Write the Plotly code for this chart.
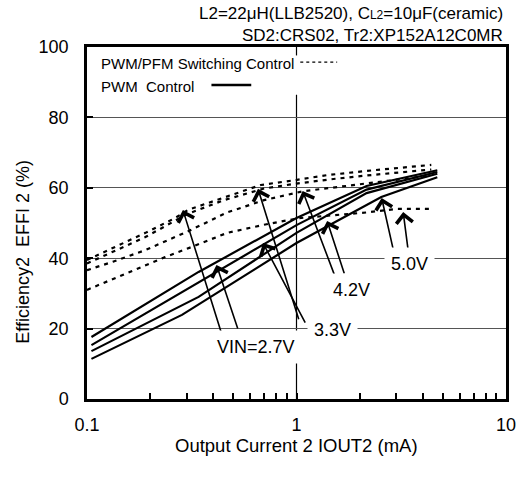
import math
import plotly.graph_objects as go

# ---------------- data ----------------
# PWM control (solid) : output current (mA) / efficiency (%)
pwm_27_i = [0.105, 0.341, 1.0, 2.16, 4.7]
pwm_27_e = [17.6, 36.1, 51.4, 60.5, 65.0]
pwm_33_i = [0.105, 0.341, 1.0, 2.16, 4.7]
pwm_33_e = [15.3, 33.2, 49.4, 59.5, 64.5]
pwm_42_i = [0.105, 0.341, 1.0, 2.16, 4.7]
pwm_42_e = [13.6, 29.0, 47.2, 58.5, 64.0]
pwm_50_i = [0.105, 0.284, 1.0, 2.54, 4.7]
pwm_50_e = [11.4, 23.9, 44.3, 57.4, 63.0]

# PWM/PFM switching control (dashed)
pfm_27_i = [0.1, 0.137, 0.19, 0.263, 0.303, 0.415, 0.676, 0.99, 1.4, 2.16, 4.4]
pfm_27_e = [39.5, 43.2, 47.2, 51.4, 53.7, 56.5, 60.8, 62.2, 63.6, 64.8, 66.5]
pfm_33_i = [0.1, 0.19, 0.3, 0.45, 0.7, 1.0, 1.5, 2.16, 4.4]
pfm_33_e = [38.5, 46.0, 52.5, 56.5, 59.8, 61.2, 62.5, 63.5, 65.2]
pfm_42_i = [0.1, 0.133, 0.19, 0.3, 0.467, 0.7, 1.07, 2.2, 4.4]
pfm_42_e = [36.6, 39.0, 42.3, 47.5, 53.0, 56.5, 59.0, 61.4, 63.5]
pfm_50_i = [0.1, 0.176, 0.236, 0.316, 0.467, 0.7, 1.03, 2.16, 3.0, 4.4]
pfm_50_e = [31.0, 37.2, 40.3, 43.2, 47.2, 49.5, 51.4, 53.0, 54.0, 54.0]

x_tick_vals = [0.1, 1, 10]
x_tick_text = ["0.1", "1", "10"]
y_tick_vals = [0, 20, 40, 60, 80, 100]
minor_vals = [0.2, 0.3, 0.4, 0.5, 0.6, 0.7, 0.8, 0.9, 2, 3, 4, 5, 6, 7, 8, 9]

# labels: text, current (mA), efficiency (%)
labels = [("VIN=2.7V", 0.641, 14.8), ("3.3V", 1.48, 19.6),
          ("4.2V", 1.84, 31.0), ("5.0V", 3.48, 38.4)]
# arrows: tail (I, eff) -> tip (I, eff)
arrows = [((0.438, 18.75), (0.287, 53.7)), ((0.527, 19.6), (0.415, 38.1)),
          ((1.03, 22.2), (0.655, 59.7)), ((1.11, 21.3), (0.692, 44.3)),
          ((1.53, 34.7), (1.07, 59.1)), ((1.70, 35.2), (1.40, 50.6)),
          ((2.90, 42.3), (2.55, 57.1)), ((3.41, 42.3), (3.23, 53.1))]

FONT = "Liberation Sans, Arial, sans-serif"

fig = go.Figure()
for xs, ys in [(pfm_27_i, pfm_27_e), (pfm_33_i, pfm_33_e),
               (pfm_42_i, pfm_42_e), (pfm_50_i, pfm_50_e)]:
    fig.add_trace(go.Scatter(x=xs, y=ys, mode="lines",
                             line=dict(color="black", width=2.2, dash="4px,5px"),
                             showlegend=False, hoverinfo="skip"))
for xs, ys in [(pwm_27_i, pwm_27_e), (pwm_33_i, pwm_33_e),
               (pwm_42_i, pwm_42_e), (pwm_50_i, pwm_50_e)]:
    fig.add_trace(go.Scatter(x=xs, y=ys, mode="lines",
                             line=dict(color="black", width=2.2),
                             showlegend=False, hoverinfo="skip"))

shapes = []
# vertical reference line at 1 mA
shapes.append(dict(type="line", xref="x", yref="y", x0=1, x1=1, y0=0, y1=86.4,
                   line=dict(color="black", width=1.2), layer="below"))
shapes.append(dict(type="line", xref="x", yref="y", x0=1, x1=1, y0=97.6, y1=100,
                   line=dict(color="black", width=1.2)))
# legend samples
shapes.append(dict(type="line", xref="paper", yref="paper", x0=0.509, x1=0.597,
                   y0=0.957, y1=0.957, line=dict(color="black", width=1.3, dash="dot")))
shapes.append(dict(type="line", xref="paper", yref="paper", x0=0.297, x1=0.392,
                   y0=0.892, y1=0.892, line=dict(color="black", width=2.5)))

ann = []
ann.append(dict(xref="paper", yref="paper", x=0.028, y=0.952, xanchor="left",
                yanchor="middle", text="PWM/PFM Switching Control", showarrow=False,
                font=dict(size=15, family=FONT, color="black")))
ann.append(dict(xref="paper", yref="paper", x=0.028, y=0.889, xanchor="left",
                yanchor="middle", text="PWM\u00a0 Control", showarrow=False,
                font=dict(size=15, family=FONT, color="black")))
ann.append(dict(xref="paper", yref="paper", x=0.998, y=1.094, xanchor="right",
                yanchor="middle",
                text="L2=22\u03bcH(LLB2520), C<span style='font-size:12px'>L2</span>=10\u03bcF(ceramic)",
                showarrow=False, font=dict(size=17, family=FONT, color="black")))
ann.append(dict(xref="paper", yref="paper", x=0.998, y=1.034, xanchor="right",
                yanchor="middle", text="SD2:CRS02, Tr2:XP152A12C0MR",
                showarrow=False, font=dict(size=17, family=FONT, color="black")))
ann.append(dict(xref="paper", yref="paper", x=-0.153, y=0.418, xanchor="center",
                yanchor="middle", text="Efficiency2\u00a0 EFFI 2 (%)", textangle=-90,
                showarrow=False, font=dict(size=18, family=FONT, color="black")))
ann.append(dict(xref="paper", yref="paper", x=0.5, y=-0.131, xanchor="center",
                yanchor="middle", text="Output Current 2 IOUT2 (mA)",
                showarrow=False, font=dict(size=18.5, family=FONT, color="black")))
for (t0, t1) in arrows:
    ann.append(dict(xref="x", yref="y", axref="x", ayref="y",
                    x=math.log10(t1[0]), y=t1[1], ax=math.log10(t0[0]), ay=t0[1],
                    text="", showarrow=True, arrowhead=4, arrowsize=2,
                    arrowwidth=1.6, arrowcolor="black", standoff=0, startstandoff=0))
for txt, xi, ye in labels:
    ann.append(dict(xref="x", yref="y", x=math.log10(xi), y=ye, text=txt,
                    showarrow=False, bgcolor="white", borderpad=6,
                    font=dict(size=18, family=FONT, color="black")))

fig.update_layout(
    width=528, height=481,
    margin=dict(l=87, r=17, t=47, b=82),
    paper_bgcolor="white", plot_bgcolor="white",
    font=dict(family=FONT, size=18, color="black"),
    shapes=shapes, annotations=ann, showlegend=False,
)
fig.update_xaxes(type="log", range=[-1, 1], tickvals=x_tick_vals, ticktext=x_tick_text,
                 ticks="inside", ticklen=6, tickwidth=1.5, tickcolor="black",
                 showgrid=False, zeroline=False,
                 showline=True, linewidth=2.5, linecolor="black", mirror=True,
                 ticklabelstandoff=8,
                 minor=dict(tickvals=minor_vals, ticks="inside", ticklen=6,
                            tickwidth=1.5, tickcolor="black", showgrid=False))
fig.update_yaxes(range=[0, 100], tickvals=y_tick_vals,
                 ticks="inside", ticklen=6, tickwidth=1.5, tickcolor="black",
                 showgrid=True, gridcolor="#555555", gridwidth=1, zeroline=False,
                 showline=True, linewidth=2.5, linecolor="black", mirror=True,
                 ticklabelstandoff=12)

fig.write_html("out.html", config={"displayModeBar": False},
               post_script="document.body.style.margin='0px';document.body.style.overflow='hidden';")
